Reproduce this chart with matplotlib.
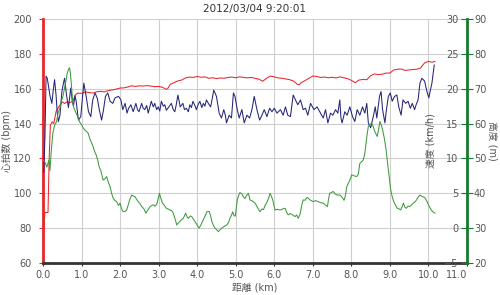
import matplotlib
matplotlib.use("Agg")
import matplotlib.pyplot as plt

plt.rcParams['font.family'] = ['DejaVu Sans', 'Noto Sans CJK JP']

TITLE = "2012/03/04 9:20:01"

# heart rate (bpm) vs distance (km)
hr_km = [0.02, 0.05, 0.13, 0.16, 0.19, 0.24, 0.28, 0.34, 0.42, 0.50, 0.56, 0.62, 0.70, 0.78, 0.84, 0.90,
         1.0, 1.1, 1.2, 1.3, 1.4, 1.5, 1.6, 1.7, 1.8, 1.9, 2.0, 2.1, 2.2, 2.3, 2.4, 2.5, 2.6, 2.7, 2.8, 2.9,
         3.0, 3.1, 3.2, 3.25, 3.3, 3.4, 3.5, 3.6, 3.7, 3.8, 3.9, 4.0, 4.1, 4.2, 4.3, 4.4, 4.5, 4.6, 4.7, 4.8,
         4.9, 5.0, 5.1, 5.2, 5.3, 5.4, 5.5, 5.6, 5.7, 5.8, 5.9, 6.0, 6.1, 6.2, 6.3, 6.4, 6.5, 6.6, 6.65, 6.7,
         6.8, 6.9, 7.0, 7.1, 7.2, 7.3, 7.4, 7.5, 7.6, 7.7, 7.8, 7.9, 8.0, 8.1, 8.2, 8.3, 8.4, 8.5, 8.6, 8.7,
         8.8, 8.9, 9.0, 9.1, 9.2, 9.3, 9.4, 9.5, 9.6, 9.7, 9.8, 9.85, 9.9, 10.0, 10.1, 10.17]
hr = [79, 89, 89, 120, 139, 141, 140, 147, 150, 152.5, 151.5, 152.5, 152, 153, 156.5, 157.5,
      157.3, 158.2, 157.8, 157.5, 158.3, 158.5, 158.2, 159, 159.3, 159.8, 160.4, 160.5, 161, 161.7, 161.3, 161.7, 161.5, 161.8, 161.5, 161.2,
      161.3, 160.8, 159.6, 160.5, 162.5, 163.5, 164.5, 165, 166.2, 166.7, 166.5, 167, 166.6, 166.8, 166, 166.3, 165.8, 166.2, 166, 166.5,
      166.7, 166.3, 166.8, 166.5, 166.2, 166.5, 166, 165.5, 164.3, 166, 167.3, 166.8, 166.2, 166, 165.6, 165.2, 164.4, 162.5, 162.3, 163.5,
      164.7, 166, 167.3, 167, 166.5, 166.7, 166.3, 166.6, 166.2, 166.8, 166.3, 165.8, 164.8, 163.5, 165, 165.3, 165.2, 167.5, 168.5, 168.1,
      168.3, 169, 169, 170.8, 171.2, 171.3, 170.5, 170.8, 171, 171.2, 172, 173.5, 174.8, 175.7, 175.2, 175.7]

# speed (km/h)
spd_km = [0.02, 0.05, 0.08, 0.11, 0.14, 0.18, 0.23, 0.27, 0.30, 0.34, 0.37, 0.40, 0.44, 0.49, 0.53, 0.56, 0.61, 0.66,
          0.72, 0.76, 0.79, 0.83, 0.86, 0.92, 0.98, 1.02, 1.06, 1.12, 1.18, 1.24, 1.29, 1.35, 1.41, 1.46, 1.52, 1.57,
          1.62, 1.68, 1.74, 1.81, 1.87, 1.96, 2.02, 2.07, 2.13, 2.18, 2.22, 2.28, 2.34, 2.41, 2.45, 2.49, 2.56, 2.60,
          2.64, 2.69, 2.73, 2.81, 2.86, 2.90, 2.95, 2.99, 3.03, 3.07, 3.12, 3.16, 3.20, 3.24, 3.29, 3.33, 3.38, 3.42,
          3.46, 3.50, 3.56, 3.63, 3.67, 3.72, 3.77, 3.81, 3.85, 3.89, 3.94, 3.98, 4.03, 4.07, 4.12, 4.16, 4.20, 4.24,
          4.30, 4.35, 4.39, 4.43, 4.50, 4.54, 4.57, 4.63, 4.69, 4.73, 4.76, 4.83, 4.89, 4.94, 4.98, 5.04, 5.09, 5.16,
          5.22, 5.29, 5.36, 5.42, 5.48, 5.55, 5.62, 5.68, 5.74, 5.81, 5.88, 5.94, 6.00, 6.07, 6.16, 6.23, 6.29, 6.35,
          6.42, 6.49, 6.55, 6.61, 6.68, 6.75, 6.81, 6.87, 6.94, 7.03, 7.11, 7.20, 7.27, 7.33, 7.39, 7.46, 7.52, 7.59,
          7.65, 7.70, 7.73, 7.76, 7.83, 7.89, 7.96, 8.03, 8.09, 8.15, 8.22, 8.29, 8.35, 8.40, 8.44, 8.50, 8.56, 8.62,
          8.66, 8.73, 8.77, 8.81, 8.87, 8.91, 8.96, 9.01, 9.06, 9.12, 9.18, 9.23, 9.29, 9.34, 9.41, 9.47, 9.53, 9.58,
          9.64, 9.68, 9.73, 9.78, 9.83, 9.90, 9.96, 10.01, 10.05, 10.09, 10.15]
spd = [8, 13, 21.8, 21.5, 20.5, 19.0, 17.9, 20, 21.3, 19, 16.5, 15.3, 16.2, 19.6, 20.8, 21.5, 19.1, 17.3,
       20.1, 18.2, 17.5, 19.0, 18.2, 15.5, 16.0, 18.5, 20.8, 18.9, 16.7, 16.0, 18.4, 19.4, 18.6, 17.0, 15.5, 17.0,
       18.9, 19.4, 18.2, 17.9, 18.7, 18.9, 18.4, 17.0, 17.9, 16.5, 17.2, 17.7, 16.7, 17.9, 17.0, 16.7, 17.9, 17.2,
       17.0, 17.6, 16.5, 18.2, 17.4, 17.9, 17.0, 17.4, 16.8, 18.2, 17.5, 17.7, 16.9, 17.2, 17.6, 17.9, 17.0, 16.7,
       17.8, 19.1, 17.4, 17.9, 17.0, 17.2, 16.7, 17.7, 17.3, 18.2, 17.6, 17.0, 17.8, 18.2, 17.3, 17.9, 17.5, 18.4,
       17.8, 17.4, 18.6, 19.8, 18.9, 17.5, 16.5, 15.8, 17.0, 16.2, 15.1, 16.2, 15.8, 19.4, 18.9, 17.0, 15.8, 17.0,
       15.1, 16.2, 15.8, 17.0, 18.9, 17.0, 15.5, 16.2, 17.0, 16.0, 17.2, 16.7, 17.2, 16.5, 17.0, 16.2, 17.4, 16.2,
       16.0, 19.1, 18.4, 17.7, 18.4, 17.0, 17.2, 16.2, 17.9, 17.0, 17.4, 16.5, 15.8, 17.0, 15.1, 16.5, 16.2, 17.0,
       16.5, 18.4, 15.8, 15.1, 16.7, 16.2, 17.4, 16.0, 15.3, 17.0, 16.2, 17.4, 16.5, 17.9, 15.1, 14.4, 15.8, 17.4,
       15.8, 18.9, 19.6, 17.0, 15.1, 17.0, 18.9, 19.4, 18.2, 18.9, 19.1, 17.4, 16.2, 18.4, 17.9, 18.2, 17.2, 17.9,
       17.0, 17.7, 18.4, 20.8, 21.5, 21.1, 19.6, 18.7, 19.8, 20.8, 23.4]

# altitude (m)
alt_km = [0.0, 0.05, 0.1, 0.15, 0.18, 0.22, 0.26, 0.3, 0.35, 0.39, 0.44, 0.48, 0.52, 0.56, 0.6, 0.63, 0.67, 0.69,
          0.71, 0.73, 0.75, 0.77, 0.8, 0.84, 0.88, 0.91, 0.95, 1.0, 1.04, 1.08, 1.12, 1.17, 1.22, 1.26, 1.3, 1.34,
          1.38, 1.42, 1.46, 1.5, 1.56, 1.61, 1.65, 1.7, 1.74, 1.78, 1.82, 1.86, 1.91, 1.96, 2.0, 2.04, 2.08, 2.13,
          2.17, 2.22, 2.26, 2.3, 2.35, 2.39, 2.43, 2.47, 2.52, 2.56, 2.62, 2.67, 2.72, 2.78, 2.82, 2.86, 2.9, 2.95,
          2.99, 3.02, 3.06, 3.1, 3.15, 3.2, 3.25, 3.29, 3.34, 3.38, 3.43, 3.47, 3.51, 3.55, 3.6, 3.64, 3.7, 3.74,
          3.77, 3.82, 3.86, 3.9, 3.94, 4.0, 4.05, 4.1, 4.16, 4.21, 4.25, 4.31, 4.35, 4.38, 4.42, 4.46, 4.51, 4.55,
          4.6, 4.64, 4.7, 4.77, 4.82, 4.85, 4.9, 4.92, 4.96, 4.99, 5.04, 5.08, 5.11, 5.16, 5.2, 5.24, 5.29, 5.33,
          5.37, 5.43, 5.5, 5.56, 5.63, 5.68, 5.72, 5.76, 5.8, 5.85, 5.89, 5.93, 5.96, 6.02, 6.08, 6.15, 6.22, 6.28,
          6.32, 6.36, 6.41, 6.45, 6.5, 6.54, 6.58, 6.62, 6.67, 6.71, 6.75, 6.8, 6.85, 6.88, 6.94, 7.01, 7.07, 7.14,
          7.2, 7.27, 7.33, 7.38, 7.41, 7.44, 7.49, 7.53, 7.58, 7.63, 7.7, 7.75, 7.81, 7.85, 7.88, 7.95, 8.01, 8.07,
          8.14, 8.18, 8.22, 8.28, 8.31, 8.35, 8.38, 8.41, 8.44, 8.49, 8.53, 8.57, 8.61, 8.67, 8.71, 8.74, 8.78, 8.81,
          8.86, 8.9, 8.96, 9.02, 9.06, 9.1, 9.15, 9.19, 9.24, 9.28, 9.32, 9.35, 9.39, 9.42, 9.47, 9.52, 9.57, 9.61,
          9.65, 9.69, 9.74, 9.78, 9.82, 9.85, 9.9, 9.94, 9.98, 10.02, 10.07, 10.11, 10.17]
alt = [49.5, 49.0, 47.5, 49.5, 46.5, 53, 57.5, 59.5, 60.5, 63, 64.5, 66.5, 68, 70.2, 72.5, 74.5, 75.8, 76,
       74.5, 72, 69, 66.4, 64.5, 63.5, 62.5, 61.6, 60.5, 59.7, 58.8, 58.2, 57.8, 57.3, 55.5, 54.5, 53.4, 52,
       51, 49.5, 47.5, 46.5, 43.8, 44.2, 44.8, 43, 41.9, 40, 38.6, 38, 37.6, 36.5, 37.2, 35.5, 34.7, 34.8,
       35.2, 37, 38.5, 39.5, 39.2, 39, 38.2, 37.6, 37, 36.2, 35.5, 34.3, 35.2, 36.2, 36.5, 36.7, 36.3, 36.8,
       38.5, 40, 38.5, 37.2, 36.5, 35.7, 35.5, 35.2, 35, 34.3, 32.5, 30.9, 31.5, 31.9, 32.5, 32.8, 34.3, 33.2,
       32.8, 33.5, 33.3, 32.6, 31.9, 30.8, 30, 31, 32.4, 33.6, 34.7, 34.8, 33.5, 31.9, 30.8, 30, 29.5, 29,
       29.6, 30, 30.5, 30.9, 31.8, 32.8, 34, 34.7, 33.5, 33.5, 38.1, 39.5, 40.2, 39.8, 39, 38.5, 39.5, 40,
       38.1, 37.8, 37.2, 36, 34.7, 35.5, 35.3, 36.5, 37.2, 38.5, 40, 39, 38.1, 35.2, 35.4, 35.2, 35.5, 35.7,
       34.6, 33.8, 34.2, 34, 33.6, 33.3, 33.8, 32.8, 34, 36.5, 38.1, 38, 38.8, 38.6, 38, 37.6, 37.9, 37.6,
       37.3, 37.2, 36.6, 36.2, 38.5, 40, 40.3, 40.5, 39.8, 39.5, 39.5, 39, 38, 39.5, 41.9, 43.5, 45.3, 45,
       44.8, 45.5, 48.6, 49.2, 49.6, 51.5, 54.4, 57, 59.2, 59.8, 60.1, 59, 57.7, 56.3, 58.5, 60.6, 59.5, 58.2,
       55.5, 52.5, 46.7, 41, 39, 37.6, 36.5, 35.7, 35.5, 35.2, 36.2, 37.2, 36, 35.7, 36.3, 36.2, 36.8, 37.2,
       37.5, 38.1, 39, 39.5, 39.2, 39, 38.8, 38.1, 37.2, 36.2, 35.3, 34.7, 34.3]

x_ticks = [0, 1, 2, 3, 4, 5, 6, 7, 8, 9, 10, 11]
hr_ticks = [60, 80, 100, 120, 140, 160, 180, 200]
spd_ticks = [-5, 0, 5, 10, 15, 20, 25, 30]
alt_ticks = [20, 30, 40, 50, 60, 70, 80, 90]

RED, BLUE, GREEN, GREEN_AX = "#e8262b", "#25247a", "#3d9a3d", "#167a2c"
TXT = "#555555"

fig = plt.figure(figsize=(5, 2.95), dpi=100)
ax = fig.add_axes([0.086, 0.1085, 0.848, 0.827])
ax2 = ax.twinx()   # speed, labels left of right spine
ax3 = ax.twinx()   # altitude, labels right of right spine

ax.plot(hr_km, hr, color=RED, lw=0.75)
ax2.plot(spd_km, spd, color=BLUE, lw=0.75)
ax3.plot(alt_km, alt, color=GREEN, lw=0.75)

ax.set_xlim(0, 11); ax.set_ylim(60, 200)
ax2.set_ylim(-5, 30); ax3.set_ylim(20, 90)
ax.set_xticks(x_ticks, [f"{v:.1f}" for v in x_ticks])
ax.get_xticklabels()[-1].set_ha("right")
ax.set_yticks(hr_ticks)
ax2.set_yticks(spd_ticks); ax3.set_yticks(alt_ticks)
ax.grid(color="#cfcfcf", lw=0.8)

for s in ("top", "right"):
    ax.spines[s].set_visible(False)
ax.spines["left"].set_color(RED); ax.spines["left"].set_linewidth(2)
ax.spines["bottom"].set_color("#333333"); ax.spines["bottom"].set_linewidth(2)
for s in ax2.spines.values():
    s.set_visible(False)
ax2.yaxis.tick_left()
ax2.spines["left"].set_position(("axes", 1.0))
ax2.yaxis.set_label_position("left")
for s in ("top", "left", "bottom"):
    ax3.spines[s].set_visible(False)
ax3.spines["right"].set_color(GREEN_AX); ax3.spines["right"].set_linewidth(2)

ax.tick_params(axis="y", length=3, color=RED, labelcolor=TXT, labelsize=7, pad=5)
ax.tick_params(axis="x", length=2, color="#333333", labelcolor=TXT, labelsize=7, pad=3)
ax2.tick_params(axis="y", length=4, color=GREEN_AX, labelcolor=TXT, labelsize=7, pad=2)
ax3.tick_params(axis="y", length=4, color=GREEN_AX, labelcolor=TXT, labelsize=7, pad=1)

ax.set_ylabel("心拍数 (bpm)", fontsize=7, color=TXT, labelpad=1)
ax2.set_ylabel("速度 (km/h)", fontsize=7, color=TXT, labelpad=6)
ax3.set_ylabel("高度 (m)", fontsize=7, color=TXT, rotation=270, labelpad=8)
ax.set_xlabel("距離 (km)", fontsize=7, color=TXT, labelpad=2)
ax.set_title(TITLE, fontsize=7.5, color="#333333", pad=5)

fig.savefig("out.png", dpi=100)
